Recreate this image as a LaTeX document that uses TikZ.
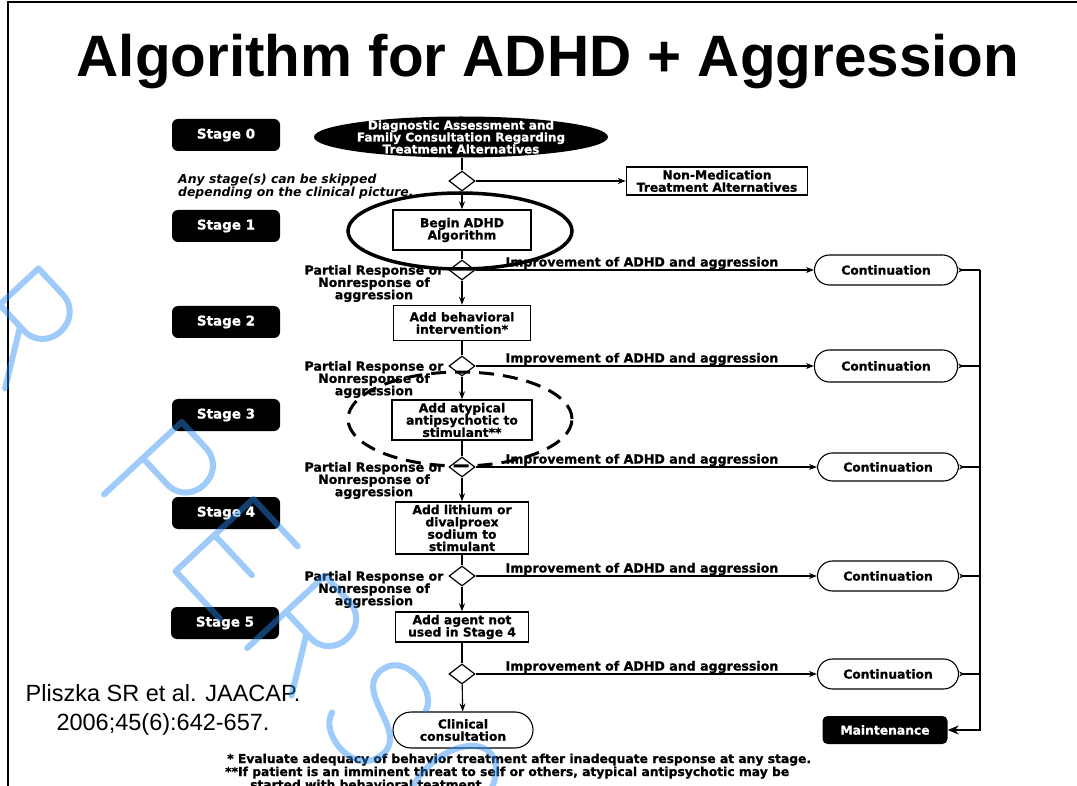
\documentclass[tikz,border=0pt]{standalone}
\usepackage{fontspec}
\setmainfont{Liberation Sans}
\newfontfamily\djfont{DejaVu Sans}[BoldFeatures={FakeBold=1}]
\usetikzlibrary{shapes.geometric,arrows.meta,calc}
\definecolor{wmblue}{RGB}{40,140,245}
\begin{document}
\begin{tikzpicture}[x=1pt,y=-1pt,
  bx/.style={font=\djfont\bfseries\fontsize{12.3}{12.3}\selectfont},
  stagebox/.style={fill=black,text=white,rounded corners=6pt,minimum width=108pt,minimum height=32pt,inner sep=0pt,font=\djfont\bfseries\fontsize{13.5}{14}\selectfont},
  procbox/.style={bx,draw,line width=1.4pt,align=center,inner sep=0pt},
  dec/.style={draw,diamond,line width=1.2pt,minimum width=26pt,minimum height=20pt,inner sep=0pt,fill=white},
  contnode/.style={bx,draw,line width=1.1pt,rounded corners=15pt,minimum width=141pt,minimum height=30pt,inner sep=0pt},
  lbl/.style={font=\djfont\bfseries\fontsize{12.6}{12.3}\selectfont,inner sep=0pt,align=center},
  arr/.style={line width=1.1pt,-{Stealth[length=8pt,width=6pt]}},
  ln/.style={line width=1.1pt},
  endtip/.style={line width=1.1pt,{Stealth[reversed,length=6pt,width=5pt]}-},
  wm/.style={draw=wmblue,draw opacity=0.45,line width=6pt,line cap=round,line join=round},
]
\useasboundingbox (0,0) rectangle (1077,786);
\fill[white] (0,0) rectangle (1077,786);
\draw[line width=2pt] (8,786) -- (8,2) -- (1077,2);
\node[font=\bfseries\fontsize{58.4}{60}\selectfont, anchor=base, inner sep=0pt] (title) at (548,77) {Algorithm for ADHD + Aggression};

% stage boxes
\node[stagebox] (s0) at (226,135) {Stage 0};
\node[stagebox] (s1) at (226,226) {Stage 1};
\node[stagebox] (s2) at (226,322) {Stage 2};
\node[stagebox] (s3) at (226,415) {Stage 3};
\node[stagebox] (s4) at (226,513) {Stage 4};
\node[stagebox] (s5) at (225,623) {Stage 5};

% stage 0
\node[ellipse,fill=black,minimum width=294pt,minimum height=41pt,inner sep=0pt] (diag) at (461,137) {};
\node[text=white,align=center,inner sep=0pt,font=\djfont\bfseries\fontsize{12}{12}\selectfont] (diagtxt) at (diag.center) {Diagnostic Assessment and\\Family Consultation Regarding\\Treatment Alternatives};
\node[anchor=north west,align=left,inner sep=0pt,font=\djfont\bfseries\itshape\fontsize{12.4}{11.5}\selectfont] (skip) at (178,174) {Any stage(s) can be skipped\\depending on the clinical picture.};
\node[dec] (d0) at (462,181) {};
\node[procbox,minimum width=181pt,minimum height=28pt] (nm) at (717,181) {Non-Medication\\Treatment Alternatives};

% main column
\node[procbox,minimum width=138pt,minimum height=40pt] (b1) at (462,230) {Begin ADHD\\Algorithm};
\node[dec] (d1) at (462,270) {};
\node[procbox,minimum width=137pt,minimum height=35pt] (b2) at (462,323) {Add behavioral\\intervention*};
\node[dec] (d2) at (462,366) {};
\node[procbox,minimum width=140pt,minimum height=40pt] (b3) at (462,420) {Add atypical\\antipsychotic to\\stimulant**};
\node[dec] (d3) at (462,467) {};
\node[procbox,minimum width=133pt,minimum height=52pt] (b4) at (462,528) {Add lithium or\\divalproex\\sodium to\\stimulant};
\node[dec] (d4) at (462,576) {};
\node[procbox,minimum width=133pt,minimum height=30pt] (b5) at (462,627) {Add agent not\\used in Stage 4};
\node[dec] (d5) at (462,674) {};
\node[contnode,minimum width=140pt,minimum height=36pt,rounded corners=18pt,align=center] (clin) at (463,730) {Clinical\\consultation};

% continuation column
\node[contnode,minimum width=143pt] (c1) at (886,270) {Continuation};
\node[contnode,minimum width=143pt,minimum height=32pt] (c2) at (886,366) {Continuation};
\node[contnode,minimum height=28pt] (c3) at (888,467) {Continuation};
\node[contnode] (c4) at (888,576) {Continuation};
\node[contnode] (c5) at (888,674) {Continuation};
\node[bx,fill=black,text=white,rounded corners=5pt,minimum width=125pt,minimum height=28pt,inner sep=0pt] (maint) at (885,730) {Maintenance};
\coordinate (bus) at (980,270);

% labels
\foreach \d in {d1,d2,d3,d4,d5}{
  \node[lbl,anchor=base] at ($(\d)+(180,-3.5)$) {Improvement of ADHD and aggression};
}
\foreach \d in {d1,d2,d3,d4}{
  \node[lbl] at ($(\d)+(-88,13.5)$) {Partial Response or\\Nonresponse of\\aggression};
}

% connectors
\draw[ln] (d0 |- diag.south) -- (d0.north);
\draw[arr] (d0.east) -- (nm.west);
\draw[arr] (d0) -- (b1);
\draw[ln] (b1) -- (d1);
\draw[arr] (d1) -- (b2);
\draw[ln] (b2) -- (d2);
\draw[arr] (d2) -- (b3);
\draw[ln] (b3) -- (d3);
\draw[arr] (d3) -- (b4);
\draw[ln] (b4) -- (d4);
\draw[arr] (d4) -- (b5);
\draw[ln] (b5) -- (d5);
\draw[arr] (d5) -- (clin);
\foreach \k in {1,2,3,4,5}{
  \draw[arr] (d\k.east) -- (d\k.east -| c\k.west);
  \draw[endtip] (c\k.east) -- (c\k.east -| bus);
}
\draw[line width=1.1pt,-{Stealth[length=11pt,width=9pt]}] (c1.east -| bus) |- (maint.east);

% highlight ellipses
\draw[line width=3.5pt] (460,231) ellipse [x radius=112pt, y radius=38pt];
\draw[line width=3pt, dash pattern=on 15pt off 9pt] (460,419) ellipse [x radius=112pt, y radius=47pt];

% citation and footnotes
\node[align=center,inner sep=0pt,font=\fontsize{23.5}{29}\selectfont,anchor=base] (cite) at (163,730) {Pliszka SR et al. JAACAP.\\2006;45(6):642-657.};
\node[anchor=base west,align=left,inner sep=0pt,font=\djfont\bfseries\fontsize{12.3}{13}\selectfont] (foot) at (225,789) {\,* Evaluate adequacy of behavior treatment after inadequate response at any stage.\\**If patient is an imminent threat to self or others, atypical antipsychotic may be\\\hspace*{25pt}started with behavioral teatment.};

% watermark (single-stroke letters)
\begin{scope}[shift={(165,482)},rotate=-47]
  \begin{scope}[xshift=-315pt,scale=1.25] % O
    \draw[wm] (0,0) ellipse [x radius=26pt, y radius=42.5pt];
  \end{scope}
  \begin{scope}[xshift=-210pt,scale=1.25] % R
    \draw[wm] (-26,42.5) -- (-26,-42.5) -- (2,-42.5) .. controls (30,-42.5) and (30,0) .. (2,0) -- (-26,0) (-2,0) -- (26,42.5);
  \end{scope}
  \begin{scope}[xshift=0pt,scale=1.25] % P
    \draw[wm] (-26,42.5) -- (-26,-42.5) -- (2,-42.5) .. controls (30,-42.5) and (30,0) .. (2,0) -- (-26,0);
  \end{scope}
  \begin{scope}[xshift=105pt,scale=1.25] % E
    \draw[wm] (26,-42.5) -- (-26,-42.5) -- (-26,42.5) -- (26,42.5) (-26,0) -- (18,0);
  \end{scope}
  \begin{scope}[xshift=210pt,scale=1.25] % R
    \draw[wm] (-26,42.5) -- (-26,-42.5) -- (2,-42.5) .. controls (30,-42.5) and (30,0) .. (2,0) -- (-26,0) (-2,0) -- (26,42.5);
  \end{scope}
  \begin{scope}[xshift=315pt,scale=1.25] % S
    \draw[wm] (24,-28) .. controls (18,-46) and (-24,-48) .. (-24,-22) .. controls (-24,4) and (26,-6) .. (26,20) .. controls (26,50) and (-20,48) .. (-26,28);
  \end{scope}
  \begin{scope}[xshift=420pt,scale=1.25] % O
    \draw[wm] (0,0) ellipse [x radius=26pt, y radius=42.5pt];
  \end{scope}
  \begin{scope}[xshift=525pt,scale=1.25] % N
    \draw[wm] (-26,42.5) -- (-26,-42.5) -- (26,42.5) -- (26,-42.5);
  \end{scope}
\end{scope}
\end{tikzpicture}
\end{document}
